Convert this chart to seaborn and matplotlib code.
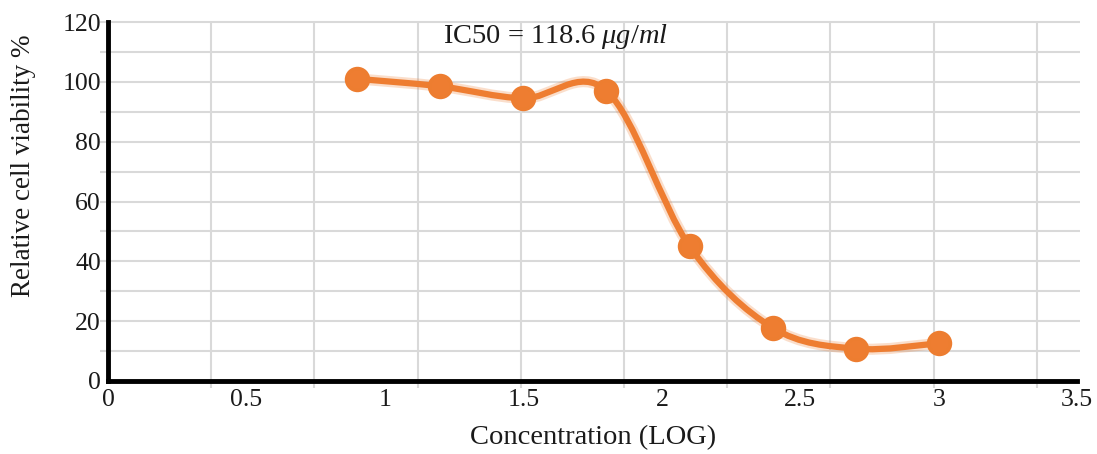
import numpy as np
import pandas as pd
import matplotlib
matplotlib.use("Agg")
import matplotlib.pyplot as plt
import matplotlib.patheffects as pe
import seaborn as sns
from matplotlib.path import Path
from matplotlib.patches import PathPatch

# ---- data ----
log_conc = [0.9, 1.2, 1.5, 1.8, 2.1, 2.4, 2.7, 3.0]
viability = [101, 98.5, 94.5, 97, 45, 17.8, 10.8, 12.6]
x_ticks = [0, 0.5, 1, 1.5, 2, 2.5, 3, 3.5]
x_tick_labels = ["0", "0.5", "1", "1.5", "2", "2.5", "3", "3.5"]
y_ticks = [0, 20, 40, 60, 80, 100, 120]
annotation = r"IC50 = 118.6 $\mu g/ml$"
x_label = "Concentration (LOG)"
y_label = "Relative cell viability %"

sns.set_style("white")
plt.rcParams["font.family"] = ["Liberation Serif", "DejaVu Serif"]
plt.rcParams["mathtext.fontset"] = "custom"
plt.rcParams["mathtext.rm"] = "Liberation Serif"
plt.rcParams["mathtext.it"] = "Liberation Serif:italic"

fig = plt.figure(figsize=(10.97, 4.54), dpi=100)
ax = fig.add_axes([0.0985, 0.1608, 0.8835, 0.7907])
ax.set_xlim(0, 3.5)
ax.set_ylim(0, 120)

grid_color = "#d9d9d9"
# horizontal gridlines every 10
ax.hlines(np.arange(10, 121, 10), -0.03, 3.51, colors=grid_color, lw=1.5,
          zorder=0, clip_on=False)
# vertical gridlines (offset spacing as in reference)
vx = np.arange(1, 10) * 0.3727
ax.vlines(vx, -2.4, 120, colors=grid_color, lw=1.5, zorder=0, clip_on=False)

# smoothed line (Catmull-Rom style Bezier, like spreadsheet smoothing)
pts = np.column_stack([log_conc, viability]).astype(float)
ext = np.vstack([pts[0], pts, pts[-1]])
verts = [tuple(pts[0])]
codes = [Path.MOVETO]
for i in range(1, len(ext) - 2):
    p0, p1, p2, p3 = ext[i - 1], ext[i], ext[i + 1], ext[i + 2]
    c1 = p1 + (p2 - p0) / 6.0
    c2 = p2 - (p3 - p1) / 6.0
    verts += [tuple(c1), tuple(c2), tuple(p2)]
    codes += [Path.CURVE4] * 3
line_color = "#EE7D31"
glow = [pe.Stroke(linewidth=8, foreground=line_color, alpha=0.25), pe.Normal()]
ax.add_patch(PathPatch(Path(verts, codes), facecolor="none", edgecolor=line_color,
                       lw=4.5, capstyle="round", joinstyle="round", zorder=3,
                       path_effects=glow))

df = pd.DataFrame({"x": log_conc, "y": viability})
sns.scatterplot(data=df, x="x", y="y", ax=ax, color=line_color, s=250,
                edgecolor=line_color, linewidth=2.5, alpha=1.0, zorder=4,
                clip_on=False)
for coll in ax.collections[-1:]:
    coll.set_edgecolor((0.93, 0.49, 0.19, 0.45))

# spines
for s in ["top", "right"]:
    ax.spines[s].set_visible(False)
for s in ["left", "bottom"]:
    ax.spines[s].set_linewidth(3.5)
    ax.spines[s].set_color("black")

ax.set_xticks(x_ticks)
ax.set_xticklabels(x_tick_labels)
ax.set_yticks(y_ticks)
ax.tick_params(axis="both", which="major", direction="out", length=3, width=3,
               color="black", labelsize=18.5, labelcolor="#1a1a1a", pad=2)
ax.tick_params(axis="x", pad=3)

ax.set_xlabel(x_label, fontsize=20.5, color="#1a1a1a", labelpad=10)
ax.set_ylabel(y_label, fontsize=19.5, color="#1a1a1a")
ax.yaxis.set_label_coords(-0.074, 0.60)

ax.text(1.614, 115.0, annotation, fontsize=20.5, ha="center", va="center",
        color="#1a1a1a")

fig.savefig("out.png", dpi=100)
